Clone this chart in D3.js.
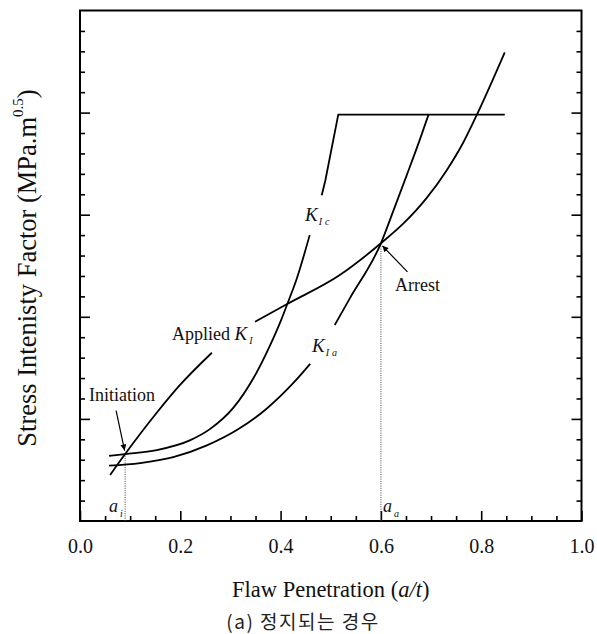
<!DOCTYPE html>
<html><head><meta charset="utf-8">
<script src="https://cdn.jsdelivr.net/npm/d3@7"></script>
<style>body{margin:0;background:#fff}svg{display:block}</style>
</head><body>
<svg id="c" width="597" height="634"></svg>
<script>
// ---------- data ----------
const xTickValues = [0, 0.2, 0.4, 0.6, 0.8, 1.0];
const xTickLabels = ["0.0", "0.2", "0.4", "0.6", "0.8", "1.0"];
const yMajorTicks = [1, 2, 3, 4];

// Applied K_I (broken where its label sits)
const appliedK_low = [[0.060,0.451],[0.090,0.656],[0.153,1.060],[0.199,1.330],[0.263,1.648]];
const appliedK_high = [[0.349,1.952],[0.413,2.125],[0.518,2.409],[0.600,2.720],[0.645,2.914],
  [0.691,3.162],[0.731,3.434],[0.764,3.705],[0.791,3.975],[0.847,4.590]];
// K_Ic
const kIc_low = [[0.058,0.637],[0.090,0.655],[0.153,0.695],[0.219,0.790],[0.259,0.900],[0.306,1.110],
  [0.346,1.400],[0.379,1.720],[0.402,1.980],[0.413,2.120],[0.432,2.370],[0.458,2.800]];
const kIc_high = [[0.482,3.190],[0.489,3.330],[0.515,3.980],[0.847,3.980]];
// K_Ia
const kIa_low = [[0.058,0.542],[0.120,0.567],[0.186,0.625],[0.253,0.740],[0.316,0.900],[0.372,1.100],
  [0.425,1.350],[0.459,1.540]];
const kIa_high = [[0.508,1.920],[0.538,2.180],[0.600,2.720],[0.625,3.040],[0.651,3.380],[0.678,3.740],[0.695,3.980]];

const initiationPt = [0.090, 0.656];
const arrestPt = [0.600, 2.720];

// ---------- drawing ----------
const svg = d3.select("#c");
const serif = "'Liberation Serif','Times New Roman',serif";
const x = d3.scaleLinear().domain([0, 1]).range([80, 581.5]);
const y = d3.scaleLinear().domain([0, 5]).range([521, 10.5]);

// minor ticks
const xMinor = d3.range(1, 20).map(i => i * 0.05).filter(v => Math.abs(v*5 - Math.round(v*5)) > 1e-6);
const yMinor = d3.range(1, 25).map(i => i * 0.2).filter(v => Math.abs(v - Math.round(v)) > 1e-6);

function styleAxis(g){ g.select(".domain").remove(); g.selectAll("line").attr("stroke","#000").attr("stroke-width",1.6); }

// bottom axis major
svg.append("g").attr("transform",`translate(0,${y(0)})`)
  .call(d3.axisBottom(x).tickValues(xTickValues).tickSizeInner(-10).tickSizeOuter(0).tickPadding(18)
        .tickFormat((d,i)=>xTickLabels[i]))
  .call(styleAxis)
  .call(g=>g.selectAll("text").attr("font-family",serif).attr("font-size",20).attr("fill","#111"));
svg.append("g").attr("transform",`translate(0,${y(0)})`)
  .call(d3.axisBottom(x).tickValues(xMinor).tickSizeInner(-5).tickSizeOuter(0).tickFormat(""))
  .call(styleAxis);
// left and right axes
[[d3.axisLeft, x(0)],[d3.axisRight, x(1)]].forEach(([ax, px])=>{
  svg.append("g").attr("transform",`translate(${px},0)`)
    .call(ax(y).tickValues(yMajorTicks).tickSizeInner(-10).tickSizeOuter(0).tickFormat(""))
    .call(styleAxis);
  svg.append("g").attr("transform",`translate(${px},0)`)
    .call(ax(y).tickValues(yMinor).tickSizeInner(-5).tickSizeOuter(0).tickFormat(""))
    .call(styleAxis);
});
// frame
svg.append("rect").attr("x",x(0)).attr("y",y(5)).attr("width",x(1)-x(0)).attr("height",y(0)-y(5))
  .attr("fill","none").attr("stroke","#000").attr("stroke-width",2);

// dotted drop lines
[initiationPt, arrestPt].forEach(p=>{
  svg.append("line").attr("x1",x(p[0])).attr("x2",x(p[0])).attr("y1",y(0)).attr("y2",y(p[1]))
    .attr("stroke","#444").attr("stroke-width",1).attr("stroke-dasharray","1,1.3");
});

// curves
const lineSmooth = d3.line().x(d=>x(d[0])).y(d=>y(d[1])).curve(d3.curveMonotoneX);
const lineStraight = d3.line().x(d=>x(d[0])).y(d=>y(d[1])).curve(d3.curveLinear);
[[appliedK_low,lineSmooth],[appliedK_high,lineSmooth],[kIc_low,lineSmooth],[kIc_high,lineStraight],
 [kIa_low,lineSmooth],[kIa_high,lineSmooth]].forEach(([d,l])=>{
  svg.append("path").attr("d",l(d)).attr("fill","none").attr("stroke","#000")
    .attr("stroke-width",1.8).attr("stroke-linejoin","round");
});

// arrow marker
svg.append("defs").append("marker").attr("id","ah").attr("viewBox","0 0 10 10")
  .attr("refX",10).attr("refY",5).attr("markerWidth",11).attr("markerHeight",6)
  .attr("markerUnits","userSpaceOnUse").attr("orient","auto")
  .append("path").attr("d","M0,0 L10,5 L0,10 Z").attr("fill","#000");
const arrows = [[[0.072,1.080],[0.089,0.690]],[[0.653,2.440],[0.603,2.695]]];
arrows.forEach(([a,b])=>{
  svg.append("line").attr("x1",x(a[0])).attr("y1",y(a[1])).attr("x2",x(b[0])).attr("y2",y(b[1]))
    .attr("stroke","#000").attr("stroke-width",1.2).attr("marker-end","url(#ah)");
});

// text labels
function txt(px, py, size){
  return svg.append("text").attr("x",px).attr("y",py).attr("font-family",serif)
    .attr("font-size",size).attr("fill","#111");
}
txt(89, 401, 18).text("Initiation");
txt(395, 291, 18).text("Arrest");
const ap = txt(172, 340, 18); ap.append("tspan").text("Applied ");
ap.append("tspan").attr("font-style","italic").attr("font-size",19).text("K");
ap.append("tspan").attr("font-style","italic").attr("font-size",10).attr("dx",2).attr("dy",4).text("I");
function kLabel(px, py, sub){
  const t = txt(px, py, 19);
  t.append("tspan").attr("font-style","italic").text("K");
  t.append("tspan").attr("font-style","italic").attr("font-size",10).attr("dx",1).attr("dy",4)
    .attr("letter-spacing",3).text(sub);
}
kLabel(305, 221, "Ic");
kLabel(312, 352, "Ia");
function aLabel(px, py, sub){
  const t = txt(px, py, 18);
  t.append("tspan").attr("font-style","italic").text("a");
  t.append("tspan").attr("font-style","italic").attr("font-size",10).attr("dx",2).attr("dy",5).text(sub);
}
aLabel(109, 512, "i");
aLabel(383, 512, "a");

// axis titles
const xt = txt((x(0)+x(1))/2, 597, 22.5).attr("text-anchor","middle");
xt.append("tspan").text("Flaw Penetration (");
xt.append("tspan").attr("font-style","italic").text("a/t");
xt.append("tspan").text(")");
const yt = svg.append("text").attr("transform","translate(36,268) rotate(-90)")
  .attr("text-anchor","middle").attr("font-family",serif).attr("font-size",26.5).attr("fill","#111");
yt.append("tspan").text("Stress Intenisty Factor (MPa.m");
yt.append("tspan").attr("font-size",15).attr("dy",-13).text("0.5");
yt.append("tspan").attr("dy",13).text(")");

// caption
svg.append("text").attr("x",303).attr("y",629).attr("text-anchor","middle")
  .attr("font-family","'Noto Sans CJK KR','Noto Sans',sans-serif").attr("font-size",19)
  .attr("letter-spacing",1.5).attr("fill","#222").text("(a) 정지되는 경우");
</script>
</body></html>
